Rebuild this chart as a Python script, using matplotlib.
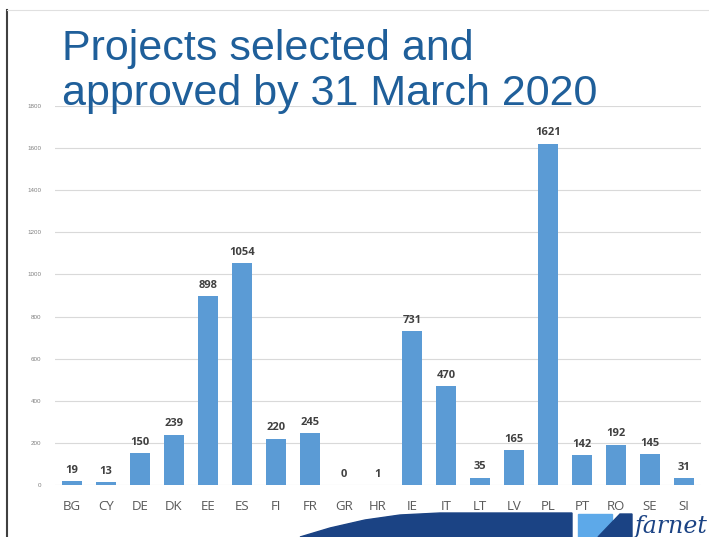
import matplotlib.pyplot as plt
from matplotlib.patches import Polygon, Rectangle
from matplotlib.lines import Line2D

countries = ["BG", "CY", "DE", "DK", "EE", "ES", "FI", "FR", "GR", "HR",
             "IE", "IT", "LT", "LV", "PL", "PT", "RO", "SE", "SI"]
projects = [19, 13, 150, 239, 898, 1054, 220, 245, 0, 1,
            731, 470, 35, 165, 1621, 142, 192, 145, 31]
yticks = [0, 200, 400, 600, 800, 1000, 1200, 1400, 1600, 1800]

W, H = 709, 537
fig = plt.figure(figsize=(W / 100, H / 100), dpi=100)
plt.rcParams['font.family'] = ['Liberation Sans', 'DejaVu Sans']

ax = fig.add_axes([55 / W, 1 - 485 / H, 646 / W, 379 / H])
x = range(len(countries))
bars = ax.bar(x, projects, width=0.58, color="#5B9BD5", zorder=3)
for xi, v in zip(x, projects):
    ax.text(xi, v + 25, str(v), ha="center", va="bottom", fontsize=8,
            fontweight="bold", color="#404040", family="Open Sans")

ax.set_xlim(-0.5, len(countries) - 0.5)
ax.set_ylim(0, 1800)
ax.set_yticks(yticks)
ax.set_yticklabels([str(t) for t in yticks], fontsize=4.5, color="#808080")
ax.set_xticks(list(x))
ax.set_xticklabels(countries, fontsize=9.5, color="#595959", family="Open Sans")
ax.tick_params(axis="both", length=0)
ax.tick_params(axis="x", pad=11)
ax.tick_params(axis="y", pad=10)
ax.grid(axis="y", color="#D9D9D9", linewidth=0.8, zorder=0)
for s in ax.spines.values():
    s.set_visible(False)

# title
fig.text(62 / W, 1 - 60 / H, "Projects selected and", fontsize=31,
         color="#1F5F9A", ha="left", va="baseline")
fig.text(62 / W, 1 - 105 / H, "approved by 31 March 2020", fontsize=31,
         color="#1F5F9A", ha="left", va="baseline")

# frame lines
fig.add_artist(Line2D([7 / W, 7 / W], [0, 1 - 10 / H], color="#404040", linewidth=1.5))
fig.add_artist(Line2D([7 / W, 1], [1 - 10 / H, 1 - 10 / H], color="#E0E0E0", linewidth=0.8))

# footer swoosh and logo
def px(pts):
    return [(a / W, 1 - b / H) for a, b in pts]

swoosh = px([(300, 537), (330, 528), (365, 520), (400, 515), (440, 513),
             (572, 513), (572, 537)])
fig.add_artist(Polygon(swoosh, closed=True, transform=fig.transFigure,
                       color="#1B4384", zorder=5))
fig.add_artist(Rectangle((578 / W, 0), 34 / W, 23 / H, transform=fig.transFigure,
                         color="#5DA9E9", zorder=5))
fig.add_artist(Polygon(px([(598, 537), (620, 514), (632, 514), (632, 537)]),
                       closed=True, transform=fig.transFigure, color="#1B4384", zorder=6))
fig.text(634 / W, 1 - 533 / H, "farnet", fontsize=17, style="italic",
         color="#1B4384", ha="left", va="baseline", family="DejaVu Serif")

fig.savefig("out.png", dpi=100)
